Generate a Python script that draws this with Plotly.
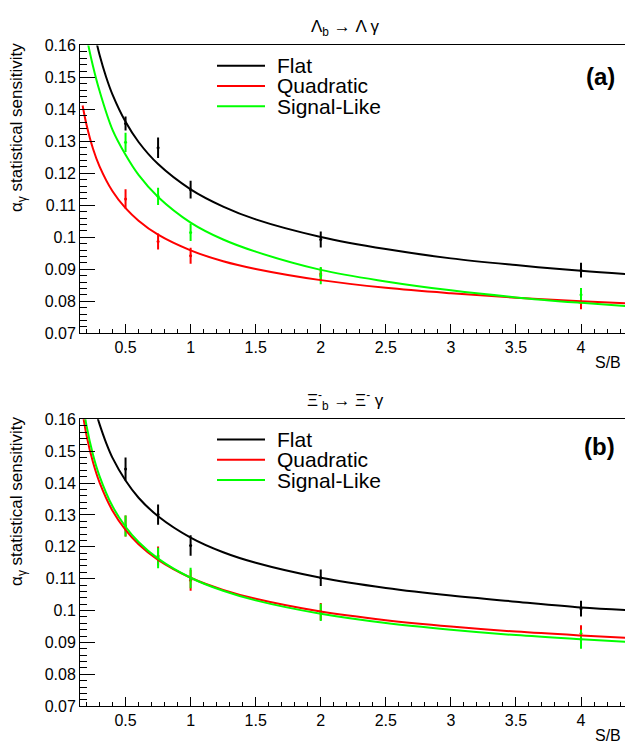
import plotly.graph_objects as go

# ---- measured points (S/B, sensitivity, uncertainty) ----
sb_points = [0.5, 0.75, 1.0, 2.0, 4.0]

# Lambda_b -> Lambda gamma
a_flat_y = [0.1356, 0.1280, 0.1149, 0.0993, 0.0897]
a_flat_err = [0.0022, 0.0032, 0.0028, 0.0025, 0.0023]
a_quad_y = [0.1120, 0.0987, 0.0942, 0.0885, 0.0795]
a_quad_err = [0.0030, 0.0025, 0.0025, 0.0020, 0.0020]
a_sig_y = [0.1297, 0.1128, 0.1015, 0.0880, 0.0820]
a_sig_err = [0.0030, 0.0027, 0.0027, 0.0027, 0.0021]

# Xi_b -> Xi gamma
b_flat_y = [0.1444, 0.1301, 0.1204, 0.1103, 0.1006]
b_flat_err = [0.0036, 0.0032, 0.0032, 0.0026, 0.0025]
b_quad_y = [0.1265, 0.1171, 0.1095, 0.0997, 0.0928]
b_quad_err = [0.0033, 0.0030, 0.0033, 0.0027, 0.0026]
b_sig_y = [0.1265, 0.1165, 0.1102, 0.0994, 0.0910]
b_sig_err = [0.0033, 0.0032, 0.0032, 0.0027, 0.0030]

# ---- fitted curves, sampled ----
a_flat_cx = [0.25, 0.28, 0.3, 0.35, 0.4, 0.5, 0.6, 0.75, 1.0, 1.25, 1.5, 2.0, 2.5, 3.0, 3.5, 4.0, 4.34]
a_flat_cy = [0.1660, 0.1604, 0.1571, 0.1502, 0.1446, 0.1361, 0.1298, 0.1229, 0.1150, 0.1096,
             0.1056, 0.1001, 0.0963, 0.0934, 0.0913, 0.0895, 0.0885]
a_quad_cx = [0.17, 0.2, 0.25, 0.3, 0.4, 0.5, 0.6, 0.75, 1.0, 1.25, 1.5, 2.0, 2.5, 3.0, 3.5, 4.0, 4.34]
a_quad_cy = [0.1412, 0.1352, 0.1277, 0.1222, 0.1144, 0.1091, 0.1052, 0.1008, 0.0959, 0.0925,
             0.0901, 0.0866, 0.0842, 0.0825, 0.0811, 0.0800, 0.0794]
a_sig_cx = [0.2, 0.21, 0.25, 0.3, 0.4, 0.5, 0.6, 0.75, 1.0, 1.25, 1.5, 2.0, 2.5, 3.0, 3.5, 4.0, 4.34]
a_sig_cy = [0.1645, 0.1610, 0.1535, 0.1458, 0.1336, 0.1258, 0.1195, 0.1126, 0.1046, 0.0993,
            0.0955, 0.0898, 0.0862, 0.0834, 0.0812, 0.0795, 0.0785]

b_flat_cx = [0.25, 0.29, 0.3, 0.35, 0.4, 0.5, 0.6, 0.75, 1.0, 1.25, 1.5, 2.0, 2.5, 3.0, 3.5, 4.0, 4.34]
b_flat_cy = [0.1660, 0.1598, 0.1585, 0.1527, 0.1479, 0.1408, 0.1354, 0.1296, 0.1229, 0.1183,
             0.1150, 0.1103, 0.1071, 0.1047, 0.1028, 0.1010, 0.1002]
b_quad_cx = [0.15, 0.2, 0.25, 0.3, 0.4, 0.5, 0.6, 0.75, 1.0, 1.25, 1.5, 2.0, 2.5, 3.0, 3.5, 4.0, 4.34]
b_quad_cy = [0.1676, 0.1550, 0.1465, 0.1402, 0.1313, 0.1253, 0.1208, 0.1159, 0.1103, 0.1065,
             0.1037, 0.0997, 0.0970, 0.0950, 0.0934, 0.0922, 0.0915]
b_sig_cx = [0.15, 0.2, 0.25, 0.3, 0.4, 0.5, 0.6, 0.75, 1.0, 1.25, 1.5, 2.0, 2.5, 3.0, 3.5, 4.0, 4.34]
b_sig_cy = [0.1714, 0.1580, 0.1489, 0.1422, 0.1327, 0.1263, 0.1215, 0.1163, 0.1103, 0.1062,
            0.1032, 0.0990, 0.0961, 0.0940, 0.0923, 0.0910, 0.0902]

labels = ["Flat", "Quadratic", "Signal-Like"]
colors = ["#000000", "#ff0000", "#00ff00"]

W, H = 625, 754
FONT = "Liberation Sans, Arial, Helvetica, sans-serif"


def px(x):
    return x / W


def py(y):
    return 1 - y / H


fig = go.Figure()

panels = [
    dict(xa="x", ya="y", top=38.3, bottom=332.7, title_y=20, tag_y=70,
         pts=[(a_flat_y, a_flat_err), (a_quad_y, a_quad_err), (a_sig_y, a_sig_err)],
         curves=[(a_flat_cx, a_flat_cy), (a_quad_cx, a_quad_cy), (a_sig_cx, a_sig_cy)],
         title="Λ<sub>b</sub> → Λ γ", tag="(a)"),
    dict(xa="x2", ya="y2", top=420.8, bottom=714.3, title_y=402, tag_y=449,
         pts=[(b_flat_y, b_flat_err), (b_quad_y, b_quad_err), (b_sig_y, b_sig_err)],
         curves=[(b_flat_cx, b_flat_cy), (b_quad_cx, b_quad_cy), (b_sig_cx, b_sig_cy)],
         title="Ξ<sup>-</sup><sub>b</sub> → Ξ<sup>-</sup> γ", tag="(b)"),
]

annotations = []
shapes = []

for p in panels:
    for (yv, ev), col in zip(p["pts"], colors):
        fig.add_trace(go.Scatter(
            x=sb_points, y=yv, mode="markers", xaxis=p["xa"], yaxis=p["ya"],
            marker=dict(color=col, size=3),
            error_y=dict(type="data", array=ev, color=col, thickness=2, width=0),
            showlegend=False, hoverinfo="skip"))
    for (cx, cy), col in zip(p["curves"], colors):
        fig.add_trace(go.Scatter(
            x=cx, y=cy, mode="lines", xaxis=p["xa"], yaxis=p["ya"],
            line=dict(color=col, width=2, shape="spline", smoothing=1.0),
            showlegend=False, hoverinfo="skip"))

    # panel title
    annotations.append(dict(
        xref="paper", yref="paper", x=px(345), y=py(p["title_y"]),
        text=p["title"], showarrow=False, xanchor="center", yanchor="middle",
        font=dict(family=FONT, size=17, color="black")))
    # panel tag
    annotations.append(dict(
        xref="paper", yref="paper", x=px(617), y=py(p["tag_y"]),
        text="<b>" + p["tag"] + "</b>", showarrow=False, xanchor="right", yanchor="middle",
        font=dict(family=FONT, size=24, color="black")))
    # y title
    annotations.append(dict(
        xref="paper", yref="paper", x=px(18), y=py(p["top"] - 4),
        text="α<sub>γ</sub> statistical sensitivity", showarrow=False, textangle=-90,
        xanchor="center", yanchor="top",
        font=dict(family=FONT, size=17, color="black")))
    # x title
    annotations.append(dict(
        xref="paper", yref="paper", x=px(623), y=py(p["bottom"] + 30),
        text="S/B", showarrow=False, xanchor="right", yanchor="middle",
        font=dict(family=FONT, size=16, color="black")))
    # legend
    for i, (lab, col) in enumerate(zip(labels, colors)):
        yy = p["top"] + 20.7 + 20.7 * i
        shapes.append(dict(type="line", xref="paper", yref="paper",
                           x0=px(217), x1=px(265), y0=py(yy), y1=py(yy),
                           line=dict(color=col, width=2)))
        annotations.append(dict(
            xref="paper", yref="paper", x=px(276), y=py(yy), text=lab,
            showarrow=False, xanchor="left", yanchor="middle", borderpad=0,
            font=dict(family=FONT, size=21, color="black")))

xaxis_common = dict(
    range=[0.15, 4.338], tick0=0, dtick=0.5, ticks="inside", ticklen=9, tickwidth=1,
    tickcolor="black", showline=True, linecolor="black", linewidth=1, mirror=True,
    showgrid=False, zeroline=False,
    tickfont=dict(family=FONT, size=16, color="black"),
    minor=dict(tick0=0, dtick=0.1, ticks="inside", ticklen=4, tickcolor="black", showgrid=False),
    domain=[px(80), 1.0],
)
yaxis_common = dict(
    range=[0.07, 0.16], tick0=0.07, dtick=0.01, ticks="inside", ticklen=15, tickwidth=1,
    tickcolor="black", showline=True, linecolor="black", linewidth=1, mirror=False,
    showgrid=False, zeroline=False,
    tickfont=dict(family=FONT, size=16, color="black"),
    minor=dict(dtick=0.002, ticks="inside", ticklen=7, tickcolor="black", showgrid=False),
)

fig.update_layout(
    width=W, height=H, margin=dict(l=0, r=0, t=0, b=0),
    paper_bgcolor="white", plot_bgcolor="white",
    xaxis=dict(xaxis_common, anchor="y"),
    yaxis=dict(yaxis_common, anchor="x", domain=[py(panels[0]["bottom"]), py(panels[0]["top"])]),
    xaxis2=dict(xaxis_common, anchor="y2"),
    yaxis2=dict(yaxis_common, anchor="x2", domain=[py(panels[1]["bottom"]), py(panels[1]["top"])]),
    annotations=annotations, shapes=shapes, showlegend=False,
)

fig.write_html("out.html")
